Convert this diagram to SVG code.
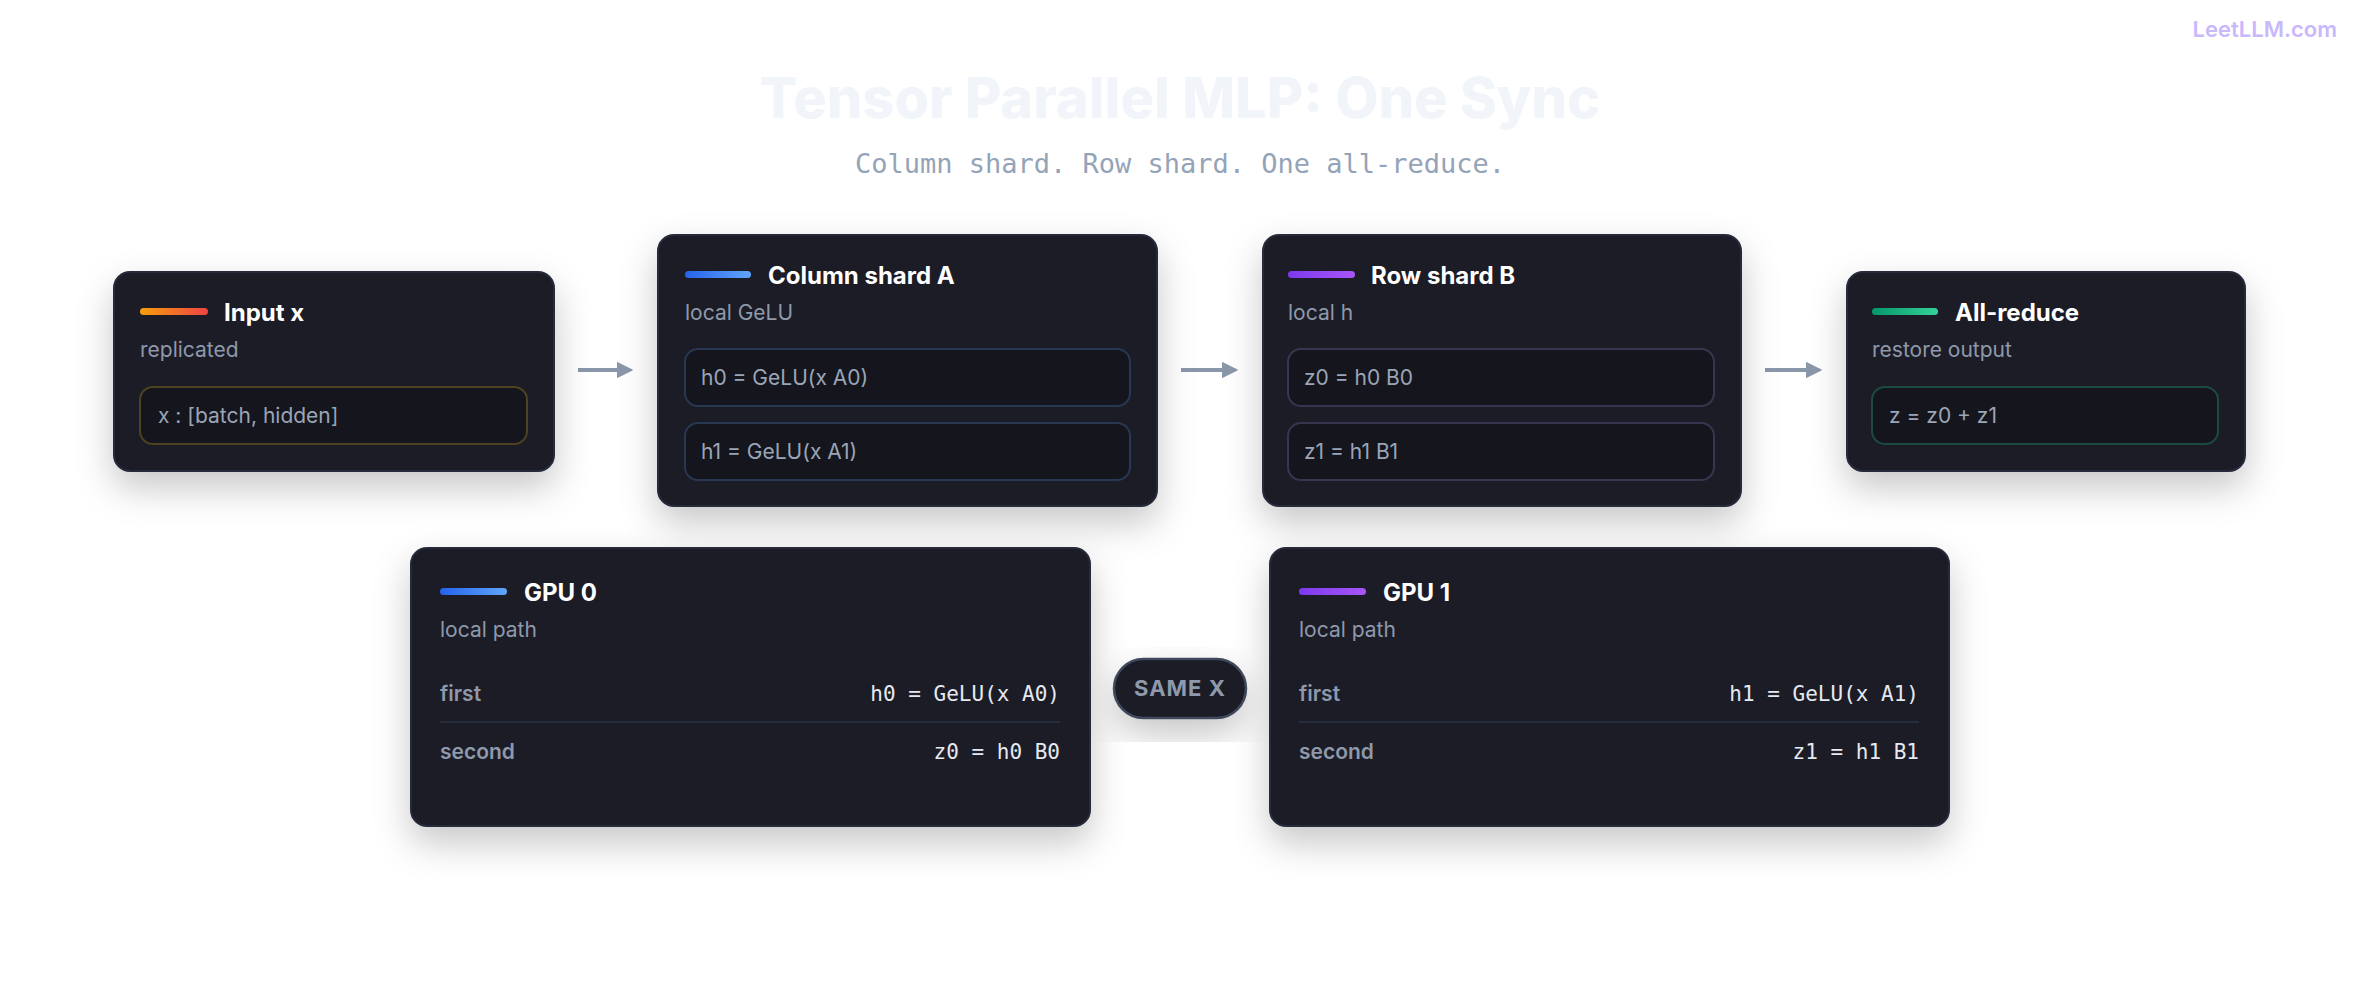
<svg xmlns="http://www.w3.org/2000/svg" width="2360" height="1000" viewBox="0 0 2360 1000">
<defs>
<filter id="sh" x="-20%" y="-20%" width="140%" height="160%"><feDropShadow dx="0" dy="16" stdDeviation="18" flood-color="#000" flood-opacity="0.22"/></filter>
<linearGradient id="gOr" x1="0" x2="1"><stop offset="0" stop-color="#f59e0b"/><stop offset="1" stop-color="#ef4444"/></linearGradient>
<linearGradient id="gBl" x1="0" x2="1"><stop offset="0" stop-color="#2563eb"/><stop offset="1" stop-color="#60a5fa"/></linearGradient>
<linearGradient id="gPu" x1="0" x2="1"><stop offset="0" stop-color="#7c3aed"/><stop offset="1" stop-color="#a855f7"/></linearGradient>
<linearGradient id="gGr" x1="0" x2="1"><stop offset="0" stop-color="#059669"/><stop offset="1" stop-color="#34d399"/></linearGradient>
<marker id="ah" viewBox="0 0 10 10" refX="2" refY="5" markerWidth="4.2" markerHeight="4.2" orient="auto"><path d="M0,0 L10,5 L0,10 z" fill="#8a97ab"/></marker>
</defs>
<style>
.card{fill:#1c1c28;stroke:#262b3a;stroke-width:2;filter:url(#sh)}
.ttl{font-family:Inter,"Noto Sans",sans-serif;font-weight:700;font-size:24px;fill:#ffffff}
.sub{font-family:Inter,"Noto Sans",sans-serif;font-size:21px;fill:#8e99ab}
.box{fill:#15151e;stroke-width:2}
.bt{font-family:Inter,"Noto Sans",sans-serif;font-size:21px;fill:#9aa5b6}
.lbl{font-family:Inter,"Noto Sans",sans-serif;font-weight:600;font-size:21px;fill:#8e99ab}
.mono{font-family:"DejaVu Sans Mono","Liberation Mono",monospace;font-size:21px;fill:#e5e9f0;text-anchor:end}
.conn{stroke:#8a97ab;stroke-width:4;fill:none}
</style>
<rect width="2360" height="1000" fill="#ffffff"/>
<text x="2337" y="37" text-anchor="end" font-family="Inter,'Noto Sans',sans-serif" font-size="22" font-weight="600" fill="#c9b8fb">LeetLLM.com</text>
<text x="1180" y="118" text-anchor="middle" font-family="Inter,'Noto Sans',sans-serif" font-size="56" font-weight="800" fill="#f1f4f9">Tensor Parallel MLP: One Sync</text>
<text x="1180" y="173" text-anchor="middle" font-family="'DejaVu Sans Mono','Liberation Mono',monospace" font-size="27" fill="#94a3b8">Column shard. Row shard. One all-reduce.</text>

<g id="connectors">
<line class="conn" x1="578" y1="370" x2="620" y2="370" marker-end="url(#ah)"/>
<line class="conn" x1="1181" y1="370" x2="1225" y2="370" marker-end="url(#ah)"/>
<line class="conn" x1="1765" y1="370" x2="1809" y2="370" marker-end="url(#ah)"/>
</g>

<g id="input">
<rect class="card" x="114" y="272" width="440" height="199" rx="16"/>
<rect x="140" y="308" width="68" height="7" rx="3.5" fill="url(#gOr)"/>
<text class="ttl" x="224" y="321">Input x</text>
<text class="sub" x="140" y="357">replicated</text>
<rect class="box" x="140" y="387" width="387" height="57" rx="13" stroke="#4e4220"/>
<text class="bt" x="158" y="423">x : [batch, hidden]</text>
</g>

<g id="colA">
<rect class="card" x="658" y="235" width="499" height="271" rx="16"/>
<rect x="685" y="271" width="66" height="7" rx="3.5" fill="url(#gBl)"/>
<text class="ttl" x="768" y="284">Column shard A</text>
<text class="sub" x="685" y="320">local GeLU</text>
<rect class="box" x="685" y="349" width="445" height="57" rx="13" stroke="#283852"/>
<text class="bt" x="701" y="385">h0 = GeLU(x A0)</text>
<rect class="box" x="685" y="423" width="445" height="57" rx="13" stroke="#283852"/>
<text class="bt" x="701" y="459">h1 = GeLU(x A1)</text>
</g>

<g id="rowB">
<rect class="card" x="1263" y="235" width="478" height="271" rx="16"/>
<rect x="1288" y="271" width="67" height="7" rx="3.5" fill="url(#gPu)"/>
<text class="ttl" x="1371" y="284">Row shard B</text>
<text class="sub" x="1288" y="320">local h</text>
<rect class="box" x="1288" y="349" width="426" height="57" rx="13" stroke="#363650"/>
<text class="bt" x="1304" y="385">z0 = h0 B0</text>
<rect class="box" x="1288" y="423" width="426" height="57" rx="13" stroke="#363650"/>
<text class="bt" x="1304" y="459">z1 = h1 B1</text>
</g>

<g id="allreduce">
<rect class="card" x="1847" y="272" width="398" height="199" rx="16"/>
<rect x="1872" y="308" width="66" height="7" rx="3.5" fill="url(#gGr)"/>
<text class="ttl" x="1955" y="321">All-reduce</text>
<text class="sub" x="1872" y="357">restore output</text>
<rect class="box" x="1872" y="387" width="346" height="57" rx="13" stroke="#1d4a40"/>
<text class="bt" x="1889" y="423">z = z0 + z1</text>
</g>

<g id="gpu0">
<rect class="card" x="411" y="548" width="679" height="278" rx="16"/>
<rect x="440" y="588" width="67" height="7" rx="3.5" fill="url(#gBl)"/>
<text class="ttl" x="524" y="601">GPU 0</text>
<text class="sub" x="440" y="637">local path</text>
<text class="lbl" x="440" y="701">first</text>
<text class="mono" x="1060" y="701">h0 = GeLU(x A0)</text>
<line x1="440" y1="722" x2="1060" y2="722" stroke="#252d3d" stroke-width="2"/>
<text class="lbl" x="440" y="759">second</text>
<text class="mono" x="1060" y="759">z0 = h0 B0</text>
</g>

<g id="gpu1">
<rect class="card" x="1270" y="548" width="679" height="278" rx="16"/>
<rect x="1299" y="588" width="67" height="7" rx="3.5" fill="url(#gPu)"/>
<text class="ttl" x="1383" y="601">GPU 1</text>
<text class="sub" x="1299" y="637">local path</text>
<text class="lbl" x="1299" y="701">first</text>
<text class="mono" x="1919" y="701">h1 = GeLU(x A1)</text>
<line x1="1299" y1="722" x2="1919" y2="722" stroke="#252d3d" stroke-width="2"/>
<text class="lbl" x="1299" y="759">second</text>
<text class="mono" x="1919" y="759">z1 = h1 B1</text>
</g>

<g id="samex">
<rect x="1114" y="659" width="132" height="59" rx="29.5" fill="#1c1c28" stroke="#3f4a5c" stroke-width="2.5" filter="url(#sh)"/>
<text x="1180" y="696" text-anchor="middle" font-family="Inter,'Noto Sans',sans-serif" font-size="22" font-weight="700" letter-spacing="1" fill="#8e99ab">SAME X</text>
</g>
</svg>
